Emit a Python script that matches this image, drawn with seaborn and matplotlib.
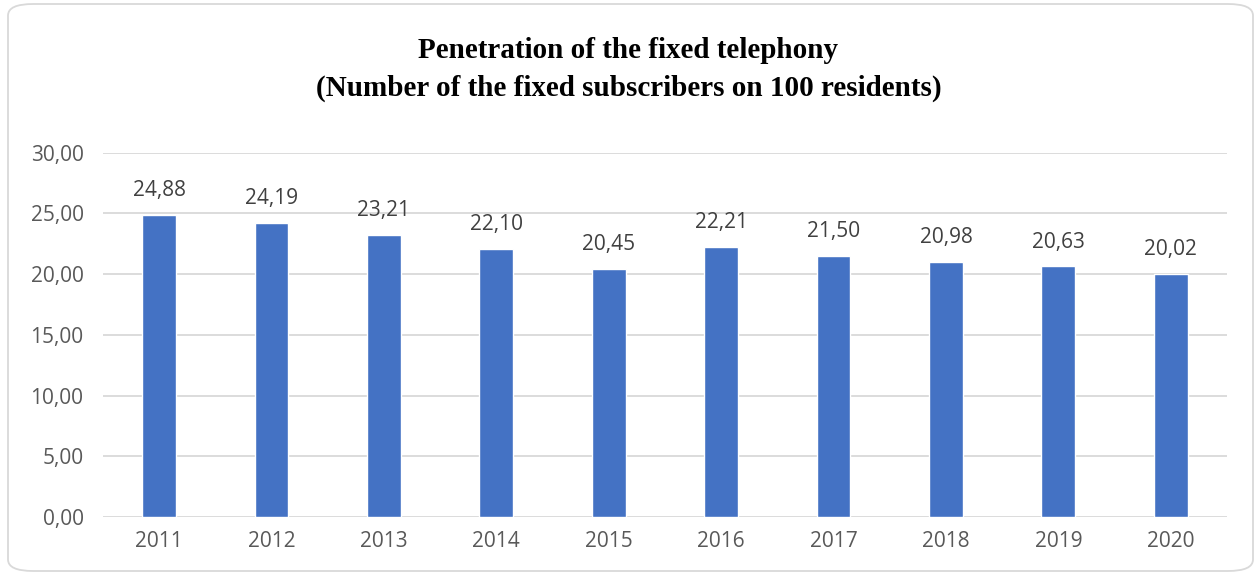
import pandas as pd
import matplotlib.pyplot as plt
import seaborn as sns
from matplotlib.patches import FancyBboxPatch

# data
years = ["2011", "2012", "2013", "2014", "2015", "2016", "2017", "2018", "2019", "2020"]
penetration = [24.88, 24.19, 23.21, 22.10, 20.45, 22.21, 21.50, 20.98, 20.63, 20.02]
y_ticks = [0, 5, 10, 15, 20, 25, 30]

df = pd.DataFrame({"year": years, "value": penetration})

sns.set_theme(style="white")
plt.rcParams["font.family"] = ["Open Sans", "DejaVu Sans"]

fig = plt.figure(figsize=(12.57, 5.74), dpi=100)
ax = fig.add_axes([0.0819, 0.0993, 0.8942, 0.6347])

sns.barplot(data=df, x="year", y="value", color="#4472C4", width=0.30,
            saturation=1, ax=ax, zorder=3)

ax.set_ylim(0, 30)
ax.set_xlim(-0.5, len(years) - 0.5)
ax.set_yticks(y_ticks)
ax.set_yticklabels([f"{t:.2f}".replace(".", ",") for t in y_ticks])
ax.yaxis.grid(True, color="#d9d9d9", linewidth=1.3, zorder=0)
ax.set_xlabel("")
ax.set_ylabel("")
sns.despine(ax=ax, left=True, bottom=True, top=True, right=True)
ax.tick_params(axis="both", length=0, labelsize=15, labelcolor="#595959")
ax.tick_params(axis="y", pad=14)
ax.tick_params(axis="x", pad=10)

labels = [f"{v:.2f}".replace(".", ",") for v in penetration]
ax.bar_label(ax.containers[0], labels=labels, padding=10, fontsize=15, color="#404040")

fig.text(0.5, 0.912, "Penetration of the fixed telephony", ha="center", va="center",
         fontsize=21, fontweight="bold", family="Liberation Serif", color="black")
fig.text(0.5, 0.846, "(Number of the fixed subscribers on 100 residents)", ha="center",
         va="center", fontsize=21, fontweight="bold", family="Liberation Serif", color="black")

# rounded outer frame
frame = FancyBboxPatch((8 / 1257, 3 / 574), 1245 / 1257, 567 / 574,
                       boxstyle="round,pad=0,rounding_size=0.02",
                       transform=fig.transFigure, fill=False,
                       edgecolor="#d9d9d9", linewidth=1.3)
fig.patches.append(frame)

fig.savefig("out.png", dpi=100)
